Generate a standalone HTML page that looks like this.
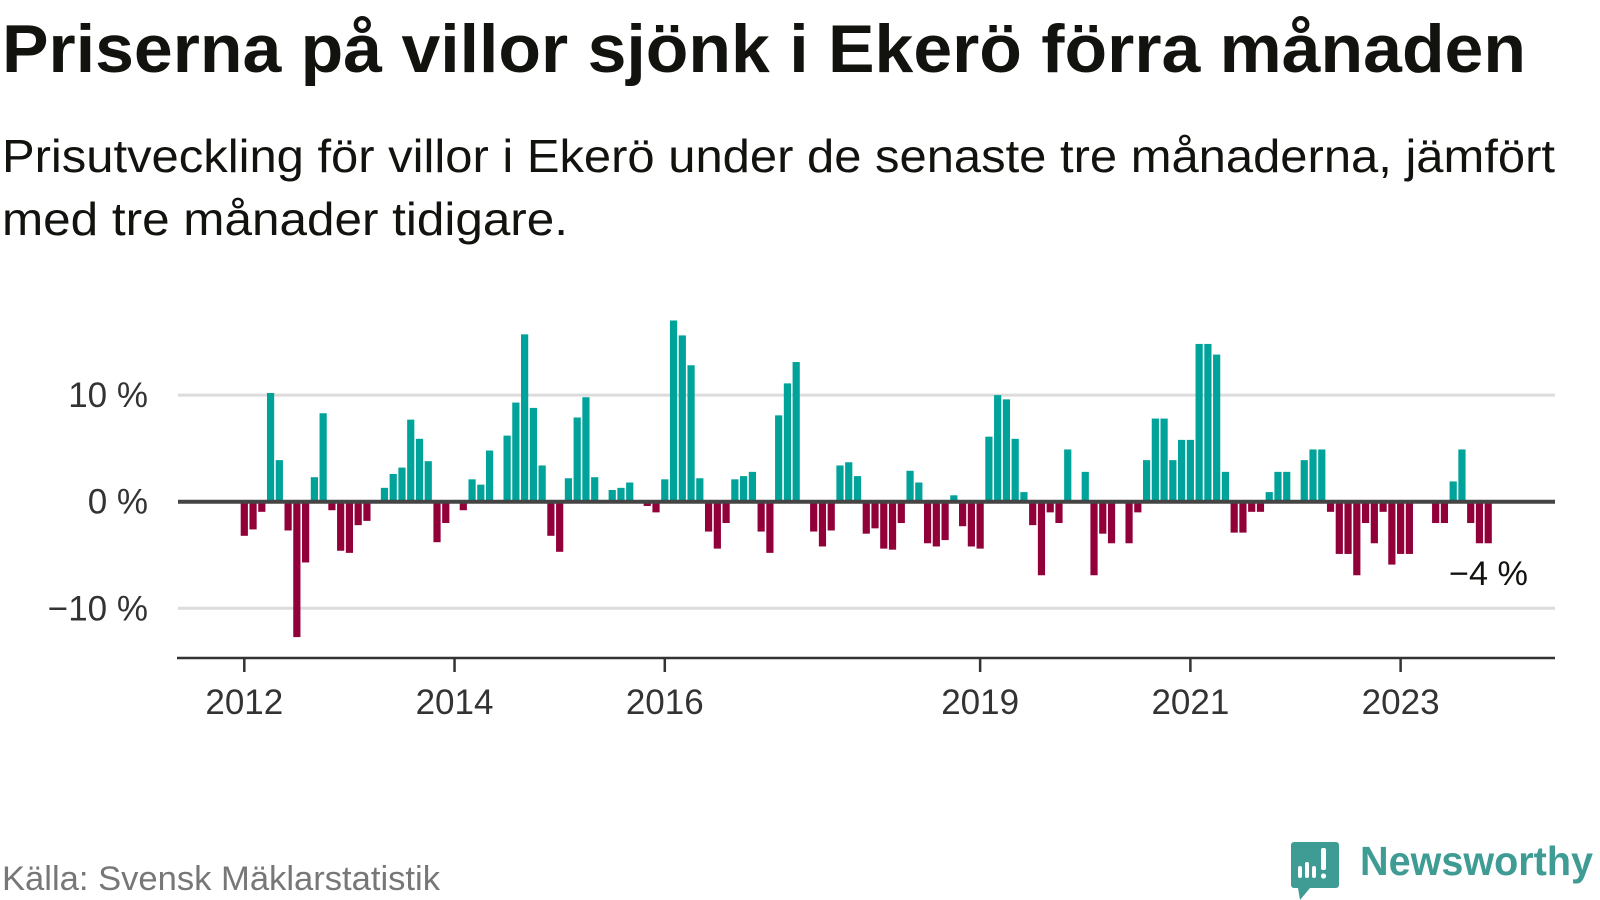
<!DOCTYPE html>
<html><head><meta charset="utf-8"><style>
html,body{margin:0;padding:0;background:#fff;width:1600px;height:900px;overflow:hidden}
svg{display:block;font-family:"Liberation Sans",sans-serif}
</style></head><body>
<svg id="chart" width="1600" height="900" viewBox="0 0 1600 900">
<text x="2" y="72" font-size="68" font-weight="bold" fill="#12130f" textLength="1524" lengthAdjust="spacingAndGlyphs">Priserna på villor sjönk i Ekerö förra månaden</text>
<text x="2" y="172" font-size="46" fill="#12130f" textLength="1553" lengthAdjust="spacingAndGlyphs">Prisutveckling för villor i Ekerö under de senaste tre månaderna, jämfört</text>
<text x="2" y="235" font-size="46" fill="#12130f" textLength="566" lengthAdjust="spacingAndGlyphs">med tre månader tidigare.</text>
<g id="grid"></g><g id="bars"></g><g id="axes"></g>
<text x="1449" y="585" font-size="34" fill="#12130f" textLength="79" lengthAdjust="spacingAndGlyphs">−4 %</text>
<text x="2" y="890" font-size="34" fill="#777" textLength="438" lengthAdjust="spacingAndGlyphs">Källa: Svensk Mäklarstatistik</text>
<g>
<path d="M1294 842 h42 a3 3 0 0 1 3 3 v40 a3 3 0 0 1 -3 3 h-26 l-10 12 l-2 -12 h-4 a3 3 0 0 1 -3 -3 v-40 a3 3 0 0 1 3 -3z" fill="#3f9c94"/>
<rect x="1298" y="866" width="4" height="12" rx="2" fill="#fff"/><rect x="1305" y="862" width="4" height="16" rx="2" fill="#fff"/><rect x="1312" y="866" width="4" height="12" rx="2" fill="#fff"/><rect x="1321" y="848" width="5" height="22" rx="2" fill="#fff"/><circle cx="1323.5" cy="876" r="2.6" fill="#fff"/>
<text x="1360" y="875" font-size="41" font-weight="bold" fill="#3f9c94" textLength="233" lengthAdjust="spacingAndGlyphs">Newsworthy</text>
</g>
</svg>
<script>
const values = [
-3.2,-2.6,-0.95,10.2,3.9,-2.7,-12.7,-5.7,2.3,8.3,-0.8,-4.6,
-4.8,-2.2,-1.8,0,1.3,2.6,3.2,7.7,5.9,3.8,-3.8,-2.0,
0,-0.8,2.1,1.6,4.8,0,6.2,9.3,15.7,8.8,3.4,-3.2,
-4.7,2.2,7.9,9.8,2.3,0,1.1,1.3,1.8,0.1,-0.4,-1.0,
2.1,17.0,15.6,12.8,2.2,-2.8,-4.4,-2.0,2.1,2.4,2.8,-2.8,
-4.8,8.1,11.1,13.1,0,-2.8,-4.2,-2.7,3.4,3.7,2.4,-3.0,
-2.5,-4.4,-4.5,-2.0,2.9,1.8,-3.9,-4.2,-3.6,0.6,-2.3,-4.2,
-4.4,6.1,10.0,9.6,5.9,0.9,-2.2,-6.9,-1.0,-2.0,4.9,0,
2.8,-6.9,-3.0,-3.9,0,-3.9,-1.0,3.9,7.8,7.8,3.9,5.8,
5.8,14.8,14.8,13.8,2.8,-2.9,-2.9,-0.95,-0.95,0.9,2.8,2.8,
0,3.9,4.9,4.9,-0.95,-4.9,-4.9,-6.9,-2.0,-3.9,-0.95,-5.9,
-4.9,-4.9,0,0,-2.0,-2.0,1.9,4.9,-2.0,-3.9,-3.9
];
const startYear = 2012;
const yTicks = [10, 0, -10];
const yTickLabels = ["10 %", "0 %", "−10 %"];
const xTickYears = [2012, 2014, 2016, 2019, 2021, 2023];

const NS = "http://www.w3.org/2000/svg";
const x0 = 244.3, step = 8.76, barW = 7.2;
const plotL = 178, plotR = 1555;
const yZero = 501.7, pxPerPct = 10.66;
function xScale(i){ return x0 + i*step; }
function yScale(v){ return yZero - v*pxPerPct; }
function mk(tag, attrs, parent){ const e=document.createElementNS(NS,tag); for(const k in attrs) e.setAttribute(k,attrs[k]); parent.appendChild(e); return e; }

const grid = document.getElementById('grid');
yTicks.forEach((t,i)=>{
  if(t!==0){
    const l = mk('line',{x1:plotL,x2:plotR,y1:yScale(t),y2:yScale(t),stroke:'#dcdcdc','stroke-width':3},grid);
    
    
  }
  const tx = mk('text',{x:148,y:yScale(t)+12,'text-anchor':'end','font-size':35,fill:'#333'},grid);
  tx.textContent = yTickLabels[i];
  
  
});

const bars = document.getElementById('bars');
values.forEach((v,i)=>{
  if(v===0) return;
  const y = v>0 ? yScale(v) : yZero;
  const r = mk('rect',{x:xScale(i)-barW/2,y:y,width:barW,height:Math.abs(v)*pxPerPct,fill:v>0?'#00a39a':'#92003a'},bars);
  
  
});

const axes = document.getElementById('axes');
const zl = mk('line',{x1:plotL,x2:plotR,y1:yZero,y2:yZero,stroke:'#444','stroke-width':4},axes);


const xa = mk('line',{x1:177,x2:plotR,y1:658,y2:658,stroke:'#333','stroke-width':2.5},axes);


xTickYears.forEach(yr=>{
  const x = xScale((yr-startYear)*12);
  const t = mk('line',{x1:x,x2:x,y1:658,y2:672,stroke:'#333','stroke-width':2.5},axes);
  
  
  const tx = mk('text',{x:x,y:714,'text-anchor':'middle','font-size':35,fill:'#333'},axes);
  tx.textContent = String(yr);
  
  
});
</script>
</body></html>
